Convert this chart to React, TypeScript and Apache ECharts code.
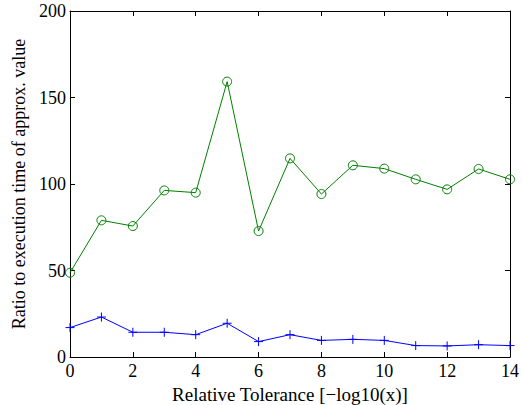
import React, { useEffect, useRef } from "react";
import * as echarts from "echarts";

const xValues = [0, 1, 2, 3, 4, 5, 6, 7, 8, 9, 10, 11, 12, 13, 14];
const greenValues = [48.7, 79.0, 75.7, 96.3, 95.0, 159.2, 72.8, 114.8, 94.2, 110.8, 108.9, 102.7, 96.9, 108.7, 102.7];
const blueValues = [17.0, 23.1, 14.3, 14.3, 12.9, 19.5, 8.9, 12.9, 9.6, 10.2, 9.6, 6.6, 6.4, 7.1, 6.6];
const xTitle = "Relative Tolerance [\u2212log10(x)]";
const yTitle = "Ratio to execution time of approx. value";

const FONT = "'Liberation Serif', 'Times New Roman', serif";

export default function App() {
  const ref = useRef<HTMLDivElement>(null);
  useEffect(() => {
    if (!ref.current) return;
    const chart = echarts.init(ref.current, null, { renderer: "svg" });
    const axisCommon = {
      type: "value" as const,
      axisLine: { show: true, onZero: false, lineStyle: { color: "#000", width: 1 } },
      axisTick: { show: true, inside: true, length: 5, lineStyle: { color: "#000" } },
      splitLine: { show: false },
    };
    chart.setOption({
      animation: false,
      backgroundColor: "#fff",
      textStyle: { fontFamily: FONT },
      grid: { left: 70, right: 12, top: 11, bottom: 48, containLabel: false, outerBoundsMode: "none" },
      xAxis: [
        {
          ...axisCommon,
          position: "bottom",
          min: 0,
          max: 14,
          interval: 2,
          axisLabel: { color: "#000", fontFamily: FONT, fontSize: 18, margin: 5 },
          name: xTitle,
          nameLocation: "middle",
          nameGap: 15,
          nameTextStyle: { color: "#000", fontFamily: FONT, fontSize: 19 },
        },
        {
          ...axisCommon,
          position: "top",
          min: 0,
          max: 14,
          interval: 2,
          axisLabel: { show: false },
        },
      ],
      yAxis: [
        {
          ...axisCommon,
          position: "left",
          min: 0,
          max: 200,
          interval: 50,
          axisLabel: { color: "#000", fontFamily: FONT, fontSize: 18, margin: 4 },
          name: yTitle,
          nameLocation: "middle",
          nameGap: 32,
          nameTextStyle: { color: "#000", fontFamily: FONT, fontSize: 18 },
        },
        {
          ...axisCommon,
          position: "right",
          min: 0,
          max: 200,
          interval: 50,
          axisLabel: { show: false },
        },
      ],
      series: [
        {
          type: "line",
          data: xValues.map((x, i) => [x, blueValues[i]]),
          symbol: "path://M0,-1V1M-1,0H1",
          symbolSize: 9,
          showSymbol: true,
          clip: false,
          lineStyle: { color: "#0000ff", width: 1 },
          itemStyle: { color: "#0000ff", borderColor: "#0000ff", borderWidth: 1 },
        },
        {
          type: "line",
          data: xValues.map((x, i) => [x, greenValues[i]]),
          symbol: "circle",
          symbolSize: 9,
          showSymbol: true,
          clip: false,
          lineStyle: { color: "#008000", width: 1 },
          itemStyle: { color: "rgba(0,0,0,0)", borderColor: "#008000", borderWidth: 1 },
        },
      ],
    });
    return () => chart.dispose();
  }, []);
  return <div ref={ref} style={{ width: 522, height: 405, position: "absolute", left: 0, top: 0 }} />;
}
